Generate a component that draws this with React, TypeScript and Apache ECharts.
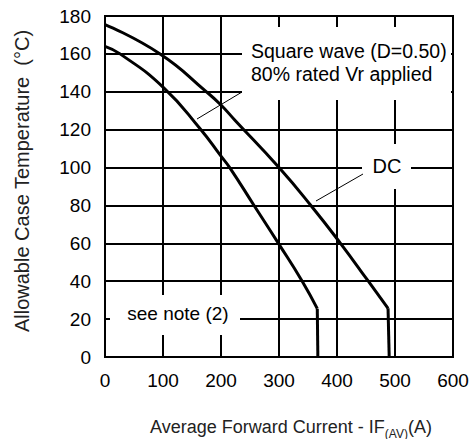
import React, { useEffect, useRef } from "react";
import * as echarts from "echarts";

// Square wave (D=0.50), 80% rated Vr applied
const squareWaveX = [0, 26, 100, 164, 200, 215, 257, 299, 340, 366];
const squareWaveY = [164, 160, 142.5, 120.5, 106, 100, 80, 60, 40, 25.5];
const squareDropX = [366, 367];
const squareDropY = [25.5, 0];

// DC
const dcX = [0, 95, 175, 200, 224, 300, 355, 406, 454, 488];
const dcY = [175.5, 160, 140, 133, 125, 100, 80, 60, 40, 25.7];
const dcDropX = [488, 490];
const dcDropY = [25.7, 0];

const xTickMin = 0;
const xTickMax = 600;
const xTickStep = 100;
const yTickMin = 0;
const yTickMax = 180;
const yTickStep = 20;

const FONT = "'Liberation Sans', Arial, sans-serif";

const zip = (xs: number[], ys: number[]) => xs.map((x, i) => [x, ys[i]]);

export default function App() {
  const ref = useRef<HTMLDivElement>(null);
  useEffect(() => {
    if (!ref.current) return;
    const chart = echarts.init(ref.current, undefined, { renderer: "svg" });
    const lineStyle = { color: "#000", width: 3 };
    const axisCommon = {
      axisLine: { show: true, lineStyle: { color: "#000", width: 2 } },
      axisTick: { show: false },
      splitLine: { show: true, lineStyle: { color: "#000", width: 2 } },
    };
    chart.setOption({
      animation: false,
      grid: {
        left: 105,
        right: 22,
        top: 16,
        bottom: 82,
        show: true,
        borderColor: "#000",
        borderWidth: 2,
      },
      xAxis: {
        type: "value",
        min: xTickMin,
        max: xTickMax,
        interval: xTickStep,
        ...axisCommon,
        axisLabel: { color: "#000", fontSize: 19, fontFamily: FONT, margin: 14 },
      },
      yAxis: {
        type: "value",
        min: yTickMin,
        max: yTickMax,
        interval: yTickStep,
        ...axisCommon,
        axisLabel: { color: "#000", fontSize: 19, fontFamily: FONT, margin: 14 },
      },
      series: [
        {
          type: "line",
          data: zip(squareWaveX, squareWaveY),
          smooth: 0.5,
          showSymbol: false,
          lineStyle,
          z: 5,
        },
        {
          type: "line",
          data: zip(squareDropX, squareDropY),
          showSymbol: false,
          lineStyle,
          z: 5,
        },
        {
          type: "line",
          data: zip(dcX, dcY),
          smooth: 0.5,
          showSymbol: false,
          lineStyle,
          z: 5,
        },
        {
          type: "line",
          data: zip(dcDropX, dcDropY),
          showSymbol: false,
          lineStyle,
          z: 5,
        },
      ],
      graphic: [
        {
          type: "rect",
          z: 100,
          shape: { x: 242, y: 27, width: 209, height: 73 },
          style: { fill: "#fff" },
        },
        {
          type: "text",
          z: 101,
          x: 251,
          y: 39,
          style: {
            text: "Square wave (D=0.50)\n80% rated Vr applied",
            font: `19.5px ${FONT}`,
            fill: "#000",
            lineHeight: 23,
            verticalAlign: "top",
          },
        },
        {
          type: "line",
          z: 101,
          shape: { x1: 242, y1: 92, x2: 197, y2: 119 },
          style: { stroke: "#000", lineWidth: 1 },
        },
        {
          type: "rect",
          z: 100,
          shape: { x: 362, y: 144, width: 49, height: 45 },
          style: { fill: "#fff" },
        },
        {
          type: "text",
          z: 101,
          x: 387,
          y: 166,
          style: {
            text: "DC",
            font: `20px ${FONT}`,
            fill: "#000",
            align: "center",
            verticalAlign: "middle",
          },
        },
        {
          type: "line",
          z: 101,
          shape: { x1: 363, y1: 174, x2: 316, y2: 201 },
          style: { stroke: "#000", lineWidth: 1 },
        },
        {
          type: "rect",
          z: 100,
          shape: { x: 110, y: 295, width: 130, height: 40 },
          style: { fill: "#fff" },
        },
        {
          type: "text",
          z: 101,
          x: 178,
          y: 313,
          style: {
            text: "see note (2)",
            font: `19px ${FONT}`,
            fill: "#000",
            align: "center",
            verticalAlign: "middle",
          },
        },
        {
          type: "text",
          z: 101,
          x: 291,
          y: 427,
          style: {
            text: "{a|Average Forward Current - IF}{sub|(AV)}{a|(A)}",
            align: "center",
            verticalAlign: "middle",
            fill: "#222",
            rich: {
              a: { fontSize: 18, fontFamily: FONT, lineHeight: 25, verticalAlign: "middle", fill: "#222" },
              sub: { fontSize: 12, fontFamily: FONT, lineHeight: 25, verticalAlign: "bottom", fill: "#222" },
            },
          },
        },
        {
          type: "text",
          z: 101,
          x: 22,
          y: 181,
          rotation: Math.PI / 2,
          style: {
            text: "Allowable Case Temperature  (°C)",
            font: `20px ${FONT}`,
            fill: "#222",
            align: "center",
            verticalAlign: "middle",
          },
        },
      ],
    });
    return () => chart.dispose();
  }, []);
  return (
    <div
      ref={ref}
      style={{ position: "absolute", left: 0, top: 0, width: 475, height: 439 }}
    />
  );
}
